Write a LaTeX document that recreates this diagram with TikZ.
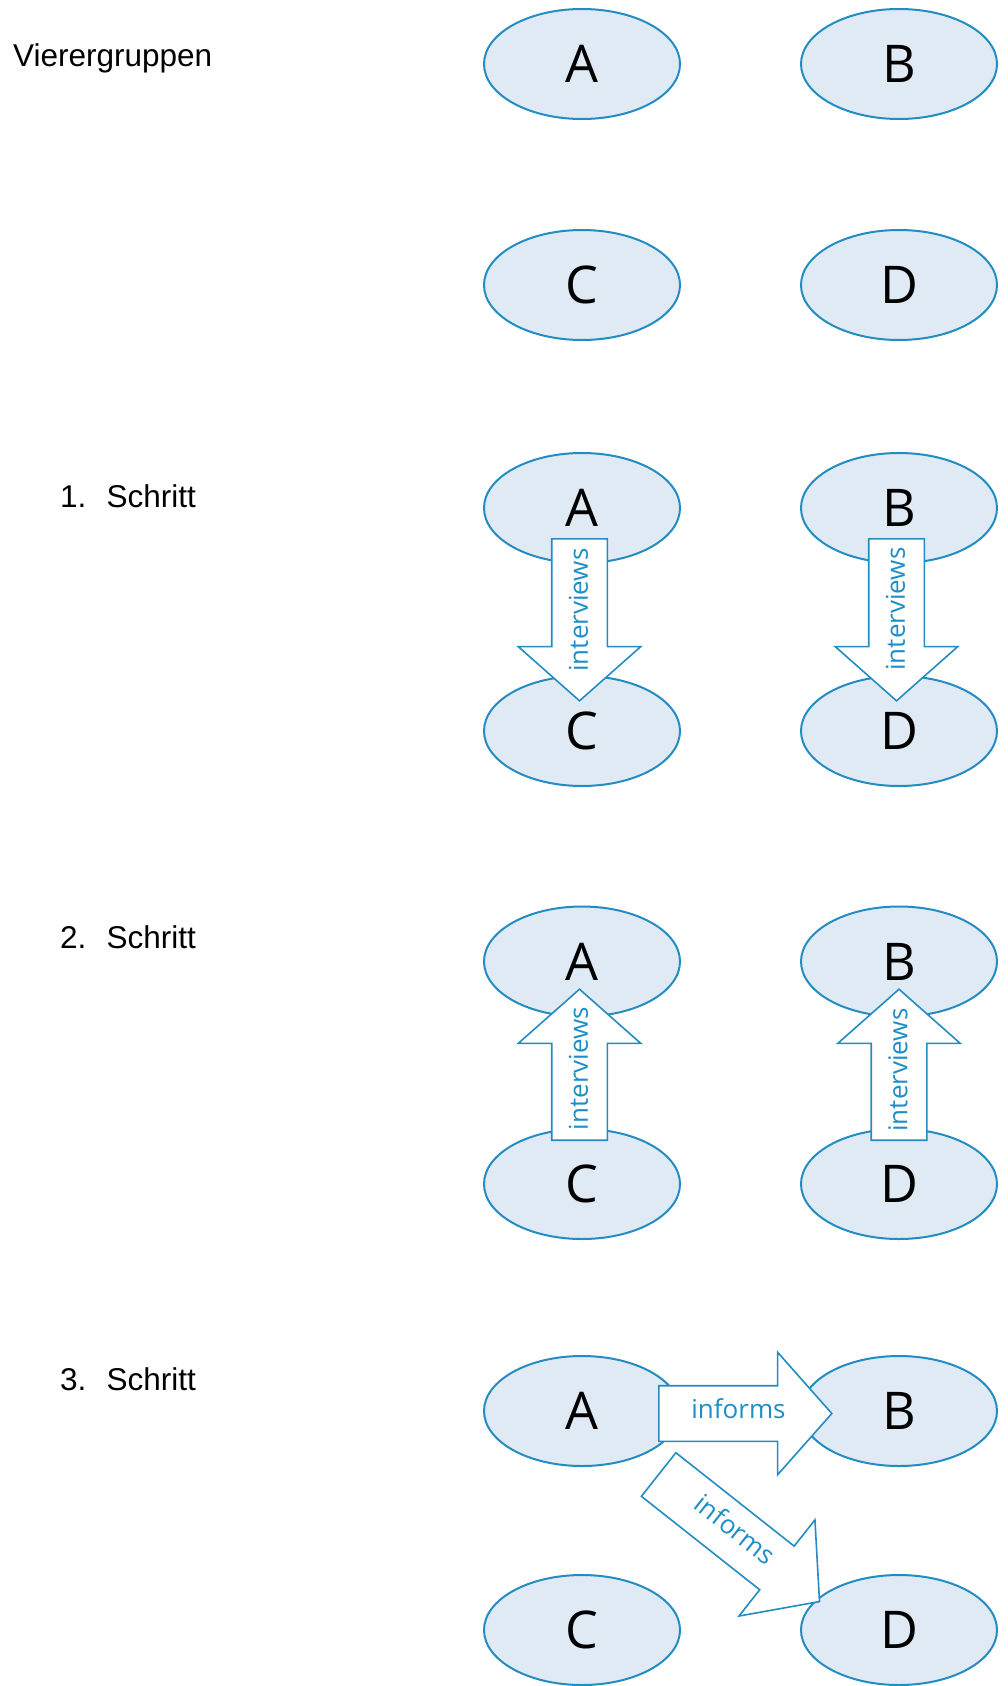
\documentclass[tikz,border=0pt]{standalone}
\usepackage{fontspec}
\setmainfont{Liberation Sans}
\newfontfamily\grpfont{Open Sans}
\usetikzlibrary{shapes.geometric,shapes.arrows}

\definecolor{grpline}{HTML}{238CC3}
\definecolor{grpfill}{HTML}{E0EAF4}
\definecolor{grptext}{HTML}{1E8FC6}

\tikzset{
  member/.style={ellipse,draw=grpline,fill=grpfill,line width=2pt,
    minimum width=196pt,minimum height=110pt,inner sep=0pt,
    font=\grpfont\fontsize{52}{52}\selectfont},
  blockarrow/.style={single arrow,draw=grpline,fill=white,line width=1.6pt,
    inner xsep=0pt,inner ysep=27pt,single arrow head extend=33.5pt,
    single arrow tip angle=97,anchor=tail},
  arrowlabel/.style={text=grptext,font=\grpfont\fontsize{26}{26}\selectfont,
    text height=13.9pt,text depth=0pt,inner sep=0pt},
  steplabel/.style={anchor=base west,inner sep=0pt,font=\fontsize{31.5}{36}\selectfont}
}

\begin{document}
\begin{tikzpicture}[x=1pt,y=-1pt]
  \useasboundingbox (0,0) rectangle (1007,1686);

  % row titles
  \node[steplabel] (title) at (13,66.5) {Vierergruppen};
  \node[steplabel] (step1) at (60,507.5) {\makebox[46.5pt][l]{1.}Schritt};
  \node[steplabel] (step2) at (60,948) {\makebox[46.5pt][l]{2.}Schritt};
  \node[steplabel] (step3) at (60,1390) {\makebox[46.5pt][l]{3.}Schritt};

  % the four members, once per row
  \begin{scope}[every node/.style={member}]
    \node (A0) at (582,64)  {A};
    \node (B0) at (899,64)  {B};
    \node (C0) at (582,285) {C};
    \node (D0) at (899,285) {D};

    \node (A1) at (582,508) {A};
    \node (B1) at (899,508) {B};
    \node (C1) at (582,731) {C};
    \node (D1) at (899,731) {D};

    \node (A2) at (582,961.5) {A};
    \node (B2) at (899,961.5) {B};
    \node (C2) at (582,1184)  {C};
    \node (D2) at (899,1184)  {D};

    \node (A3) at (582,1411) {A};
    \node (B3) at (899,1411) {B};
    \node (C3) at (582,1630) {C};
    \node (D3) at (899,1630) {D};
  \end{scope}

  % step 1: A and B interview C and D
  \node[blockarrow,rotate=-90,minimum height=162pt] (AC1) at (579.5,538) {};
  \node[blockarrow,rotate=-90,minimum height=162pt] (BD1) at (896.5,538) {};
  \node[arrowlabel,rotate=90] at (581,610) {interviews};
  \node[arrowlabel,rotate=90] at (898,609) {interviews};

  % step 2: the other way round
  \node[blockarrow,rotate=90,minimum height=151pt] (CA2) at (579.5,1141) {};
  \node[blockarrow,rotate=90,minimum height=151pt] (DB2) at (899,1141) {};
  \node[arrowlabel,rotate=90] at (581,1068.5) {interviews};
  \node[arrowlabel,rotate=90] at (900.5,1070) {interviews};

  % step 3: A informs B and D
  \node[blockarrow,minimum height=173pt] (AB3) at (658,1413.5) {};
  \node[blockarrow,rotate=-38.3,minimum height=205pt] (AD3) at (658,1474) {};
  \node[arrowlabel] at (738.5,1411.3) {informs};
  \node[arrowlabel,rotate=-38.3] at (734,1531.5) {informs};
\end{tikzpicture}
\end{document}
